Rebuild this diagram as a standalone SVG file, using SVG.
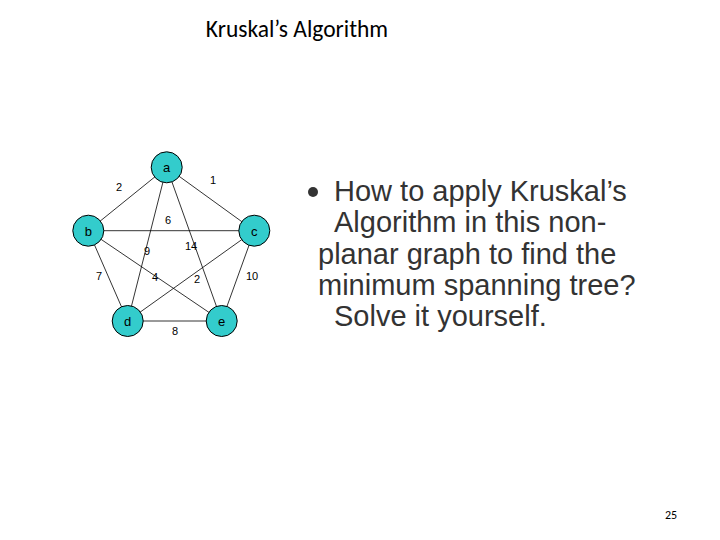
<svg xmlns="http://www.w3.org/2000/svg" width="720" height="540" viewBox="0 0 720 540">
<style>
.n{fill:#33CCCC;stroke:#000;stroke-width:1}
.nl{font-family:"Liberation Sans",Arial,sans-serif;font-size:13px;text-anchor:middle;fill:#000}
.w{font-family:"Liberation Sans",Arial,sans-serif;font-size:11px;text-anchor:middle;fill:#000}
.e line{stroke:#000;stroke-width:0.8}
.t{font-family:"Liberation Sans",Arial,sans-serif;font-size:29px;fill:#333}
</style>
<rect width="720" height="540" fill="#fff"/>
<text x="297" y="37" text-anchor="middle" font-family="Carlito,'Liberation Sans',sans-serif" font-size="23.5" fill="#000">Kruskal’s Algorithm</text>
<g id="edges" class="e">
<line x1="166.7" y1="167.3" x2="88.3" y2="230.7"/>
<line x1="166.7" y1="167.3" x2="254.3" y2="230.7"/>
<line x1="166.7" y1="167.3" x2="127.7" y2="321"/>
<line x1="166.7" y1="167.3" x2="221.7" y2="321"/>
<line x1="88.3" y1="230.7" x2="254.3" y2="230.7"/>
<line x1="88.3" y1="230.7" x2="127.7" y2="321"/>
<line x1="88.3" y1="230.7" x2="221.7" y2="321"/>
<line x1="254.3" y1="230.7" x2="127.7" y2="321"/>
<line x1="254.3" y1="230.7" x2="221.7" y2="321"/>
<line x1="127.7" y1="321" x2="221.7" y2="321"/>
</g>
<g id="weights">
<text class="w" x="119" y="191">2</text>
<text class="w" x="213" y="184">1</text>
<text class="w" x="168" y="224">6</text>
<text class="w" x="147" y="255">9</text>
<text class="w" x="191" y="250">14</text>
<text class="w" x="99" y="280">7</text>
<text class="w" x="155" y="281">4</text>
<text class="w" x="197" y="283">2</text>
<text class="w" x="252" y="280">10</text>
<text class="w" x="175" y="335">8</text>
</g>
<g id="node-a"><circle class="n" cx="166.7" cy="167.3" r="15.5"/><text class="nl" x="166.7" y="172">a</text></g>
<g id="node-b"><circle class="n" cx="88.3" cy="230.7" r="15.5"/><text class="nl" x="88.3" y="235.5">b</text></g>
<g id="node-c"><circle class="n" cx="254.3" cy="230.7" r="15.5"/><text class="nl" x="254.3" y="235.5">c</text></g>
<g id="node-d"><circle class="n" cx="127.7" cy="321" r="15.5"/><text class="nl" x="127.7" y="325.5">d</text></g>
<g id="node-e"><circle class="n" cx="221.7" cy="321" r="15.5"/><text class="nl" x="221.7" y="325.5">e</text></g>
<circle cx="313" cy="192" r="5" fill="#333"/>
<text class="t" x="334" y="201">How to apply Kruskal’s</text>
<text class="t" x="334" y="232">Algorithm in this non-</text>
<text class="t" x="318" y="264">planar graph to find the</text>
<text class="t" x="318" y="295">minimum spanning tree?</text>
<text class="t" x="334" y="326">Solve it yourself.</text>
<text x="671" y="519" text-anchor="middle" font-family="Carlito,'Liberation Sans',sans-serif" font-size="12" fill="#000">25</text>
</svg>
